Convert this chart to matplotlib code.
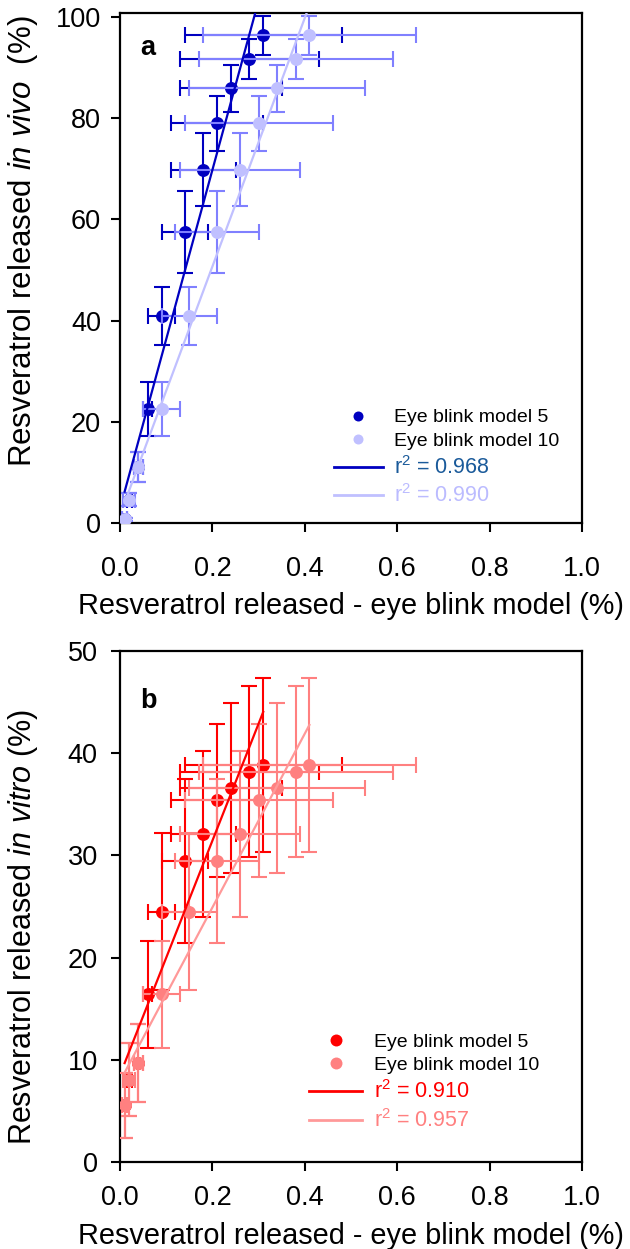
import numpy as np
import matplotlib
matplotlib.use("Agg")
import matplotlib.pyplot as plt
from matplotlib.lines import Line2D
from matplotlib.ticker import FormatStrFormatter

plt.rcParams['font.family'] = ['Liberation Sans', 'DejaVu Sans']
plt.rcParams['mathtext.fontset'] = 'custom'
plt.rcParams['mathtext.rm'] = 'Liberation Sans'
plt.rcParams['mathtext.it'] = 'Liberation Sans:italic'

# release in the eye blink model (%), same for both panels
x_model5 = [0.01, 0.02, 0.04, 0.06, 0.09, 0.14, 0.18, 0.21, 0.24, 0.28, 0.31]
x_model5_err = [0.005, 0.005, 0.01, 0.01, 0.03, 0.05, 0.07, 0.10, 0.11, 0.15, 0.17]
x_model10 = [0.01, 0.02, 0.04, 0.09, 0.15, 0.21, 0.26, 0.30, 0.34, 0.38, 0.41]
x_model10_err = [0.005, 0.013, 0.01, 0.04, 0.06, 0.09, 0.13, 0.16, 0.19, 0.21, 0.23]

# panel a: in vivo release (%)
in_vivo = [0.7, 4.6, 11.1, 22.5, 40.9, 57.5, 69.8, 79.0, 85.9, 91.7, 96.4]
in_vivo_err = [0.3, 1.3, 3.0, 5.3, 5.8, 8.1, 7.2, 5.4, 4.7, 4.0, 3.9]

# panel b: in vitro release (%)
in_vitro = [5.55, 8.07, 9.7, 16.4, 24.5, 29.45, 32.1, 35.4, 36.6, 38.2, 38.85]
in_vitro_err = [3.2, 3.6, 3.8, 5.2, 7.7, 8.0, 8.1, 7.5, 8.35, 8.4, 8.5]

legend_labels = ["Eye blink model 5", "Eye blink model 10"]
r2_a = ["0.968", "0.990"]
r2_b = ["0.910", "0.957"]


def fit_line(x, y):
    slope, intercept = np.polyfit(x, y, 1)
    xs = np.array([min(x), max(x)])
    return xs, slope * xs + intercept


def draw_panel(ax, y, yerr, cols, r2, ylim, yticks, ylabel, ylabel_size, letter, letter_y,
               leg_anchor, leg_hl, leg_ms, xpad, ypad):
    dark, dark_err, light, light_err, dark_line, light_line, r2_cols = cols
    ax.errorbar(x_model5, y, xerr=x_model5_err, yerr=yerr, fmt='o', color=dark,
                ecolor=dark_err, elinewidth=1.5, capsize=5.5, capthick=1.5,
                markersize=8.3, zorder=2)
    ax.errorbar(x_model10, y, xerr=x_model10_err, yerr=yerr, fmt='o', color=light,
                ecolor=light_err, elinewidth=1.5, capsize=5.5, capthick=1.5,
                markersize=8.3, zorder=3)
    xs, ys = fit_line(x_model5, y)
    ax.plot(xs, ys, color=dark_line, lw=1.6, zorder=4)
    xs, ys = fit_line(x_model10, y)
    ax.plot(xs, ys, color=light_line, lw=1.6, zorder=4)

    ax.set_xlim(0, 1.0)
    ax.set_ylim(*ylim)
    ax.set_xticks(np.arange(0, 1.01, 0.2))
    ax.set_yticks(yticks)
    ax.xaxis.set_major_formatter(FormatStrFormatter('%.1f'))
    for s in ax.spines.values():
        s.set_linewidth(1.6)
    ax.tick_params(direction='out', length=6.5, width=1.5, labelsize=19.5)
    ax.tick_params(axis='x', pad=xpad)
    ax.tick_params(axis='y', pad=ypad)

    ax.set_xlabel("Resveratrol released - eye blink model (%)", fontsize=20.8)
    ax.set_ylabel(ylabel, fontsize=ylabel_size)

    ax.text(0.043, letter_y, letter, transform=ax.transAxes, fontsize=19.5,
            fontweight='bold', va='center', ha='left')

    handles = [
        Line2D([], [], marker='o', ls='none', color=dark, markersize=leg_ms, markeredgewidth=0),
        Line2D([], [], marker='o', ls='none', color=light, markersize=leg_ms, markeredgewidth=0),
        Line2D([], [], color=dark_line, lw=2),
        Line2D([], [], color=light_line, lw=2),
    ]
    labels = legend_labels + [r'r$^2$ = ' + r2[0], r'r$^2$ = ' + r2[1]]
    leg = ax.legend(handles, labels, loc='upper left', bbox_to_anchor=leg_anchor,
                    frameon=False, fontsize=14, handlelength=leg_hl, handletextpad=0.6,
                    labelspacing=0.3, borderpad=0, borderaxespad=0)
    texts = leg.get_texts()
    for t, c in zip(texts, ['black', 'black'] + r2_cols):
        t.set_color(c)
    for t in texts[2:]:
        t.set_fontsize(15.5)


fig = plt.figure(figsize=(6.3, 12.49), dpi=100)
ax_a = fig.add_axes([120 / 630, 1 - 523 / 1249, 462 / 630, 510 / 1249])
ax_b = fig.add_axes([120 / 630, 1 - 1162 / 1249, 462 / 630, 511 / 1249])

blue_cols = ('#0000C0', '#0000C0', '#C0C0FF', '#8080FF', '#0000C0', '#C0C0FF',
             ['#1A5A9A', '#BBBBFF'])
red_cols = ('#FF0000', '#FF0000', '#FF8080', '#FF8080', '#FF0000', '#FF9999',
            ['#FF0000', '#FF8080'])

draw_panel(ax_a, in_vivo, in_vivo_err, blue_cols, r2_a, (0, 100.8),
           [0, 20, 40, 60, 80, 100], r'Resveratrol released $\mathit{in\ vivo}$  (%)', 22.5,
           'a', 0.932, (0.463, 0.224), 2.5, 7.2, 17, 7)
draw_panel(ax_b, in_vitro, in_vitro_err, red_cols, r2_b, (0, 50),
           [0, 10, 20, 30, 40, 50], r'Resveratrol released $\mathit{in\ vitro}$ (%)', 22,
           'b', 0.902, (0.409, 0.252), 2.75, 8.6, 10, 9.5)

ax_a.xaxis.set_label_coords(0.5, -0.163)
ax_a.xaxis.label.set_va('center')
ax_b.xaxis.set_label_coords(0.5, -0.144)
ax_b.xaxis.label.set_va('center')
ax_a.yaxis.set_label_coords(-0.21, 0.553)
ax_a.yaxis.label.set_va('center')
ax_b.yaxis.set_label_coords(-0.21, 0.46)
ax_b.yaxis.label.set_va('center')

fig.savefig('out.png', dpi=100)
